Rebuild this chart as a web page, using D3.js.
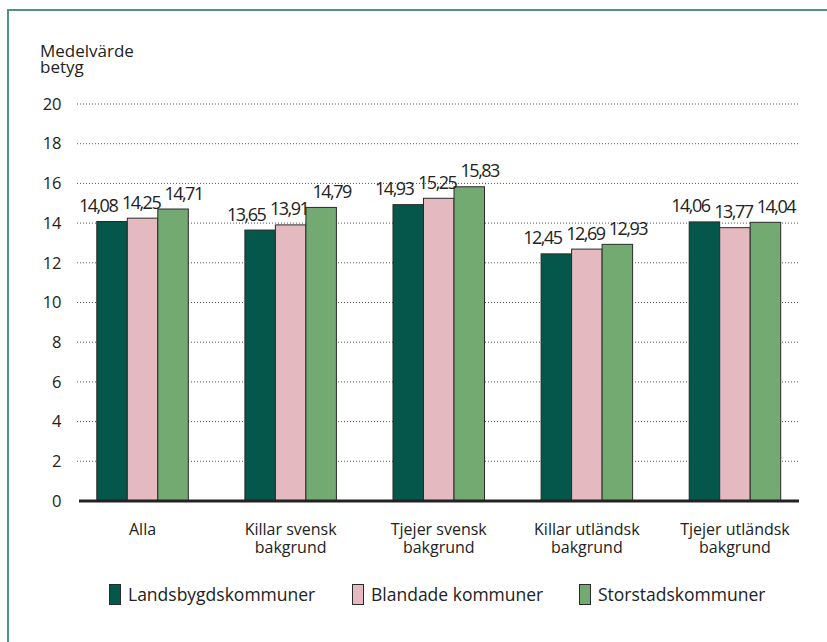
<!DOCTYPE html>
<html><head><meta charset="utf-8">
<script src="https://cdn.jsdelivr.net/npm/d3@7"></script>
<style>body{margin:0;background:#fff;} svg{display:block;font-family:"Open Sans",sans-serif;}</style>
</head><body>
<svg id="chart" width="827" height="642"></svg>
<script>
const categories = [["Alla"],["Killar svensk","bakgrund"],["Tjejer svensk","bakgrund"],["Killar utländsk","bakgrund"],["Tjejer utländsk","bakgrund"]];
const seriesNames = ["Landsbygdskommuner","Blandade kommuner","Storstadskommuner"];
const landsbygd = [14.08,13.65,14.93,12.45,14.06];
const blandade  = [14.25,13.91,15.25,12.69,13.77];
const storstad  = [14.71,14.79,15.83,12.93,14.04];
const yTicks = [0,2,4,6,8,10,12,14,16,18,20];
const colors = ["#04574a","#e4b9c0","#72aa72"];
const series = [landsbygd, blandade, storstad];

const svg = d3.select("#chart");
svg.append("rect").attr("x",8).attr("y",10).attr("width",900).attr("height",700)
  .attr("fill","none").attr("stroke","#4f9384").attr("stroke-width",2);

const y = d3.scaleLinear().domain([0,20]).range([501,104]);
const x0 = d3.scaleBand().domain(d3.range(categories.length)).range([68.5,809]).paddingInner(0.382).paddingOuter(0.191);
const x1 = d3.scaleBand().domain(d3.range(series.length)).range([0,x0.bandwidth()]);

// gridlines
const gridG = svg.append("g");
gridG.selectAll("line").data(yTicks.filter(t=>t>0)).join("line")
  .attr("x1",77).attr("x2",799).attr("y1",d=>y(d)).attr("y2",d=>y(d))
  .attr("stroke","#555").attr("stroke-width",1).attr("stroke-dasharray","1,2");

// y axis labels
const yAxis = d3.axisLeft(y).tickValues(yTicks).tickSize(0).tickPadding(0).tickFormat(d=>d);
const ya = svg.append("g").attr("transform","translate(61.5,0)").call(yAxis);
ya.select(".domain").remove();
ya.selectAll("text").attr("font-size","16.5px").attr("fill","#222").attr("font-family","'Open Sans',sans-serif");

// bars
const groups = svg.append("g").selectAll("g").data(categories.map((c,i)=>i)).join("g")
  .attr("transform",i=>`translate(${x0(i)},0)`);
groups.selectAll("rect").data(i=>series.map((s,k)=>({k,v:s[i]}))).join("rect")
  .attr("x",d=>x1(d.k)).attr("width",x1.bandwidth())
  .attr("y",d=>y(d.v)).attr("height",d=>y(0)-y(d.v))
  .attr("fill",d=>colors[d.k]).attr("stroke","#2a2a2a").attr("stroke-width",1);
const labelShift = [-14,-1.5,10.5];
groups.selectAll("text").data(i=>series.map((s,k)=>({k,v:s[i]}))).join("text")
  .attr("x",d=>x1(d.k)+x1.bandwidth()/2+labelShift[d.k]).attr("y",d=>y(d.v)-9.5)
  .attr("text-anchor","middle").attr("font-size","18px").attr("letter-spacing","-1.5px")
  .attr("fill","#222").text(d=>d3.format(".2f")(d.v).replace(".",","));

// baseline
svg.append("line").attr("x1",79).attr("x2",799).attr("y1",y(0)).attr("y2",y(0))
  .attr("stroke","#222").attr("stroke-width",3);

// x labels
const xl = svg.append("g").selectAll("text").data(categories).join("text")
  .attr("x",(d,i)=>x0(i)+x0.bandwidth()/2).attr("y",534.5)
  .attr("text-anchor","middle").attr("font-size","16px").attr("fill","#222");
xl.selectAll("tspan").data(d=>d).join("tspan")
  .attr("x",function(){return this.parentNode.getAttribute("x");})
  .attr("dy",(d,j)=>j===0?0:18).text(d=>d);

// y title
svg.append("text").attr("x",40).attr("y",57).attr("font-size","17px").attr("fill","#222").text("Medelvärde");
svg.append("text").attr("x",40).attr("y",73).attr("font-size","17px").attr("fill","#222").text("betyg");

// legend
const legX = [109,352,579];
const leg = svg.append("g").selectAll("g").data(seriesNames).join("g")
  .attr("transform",(d,i)=>`translate(${legX[i]},584)`);
leg.append("rect").attr("x",0.5).attr("y",0.5).attr("width",11).attr("height",20)
  .attr("fill",(d,i)=>colors[i]).attr("stroke","#2a2a2a").attr("stroke-width",1);
leg.append("text").attr("x",19).attr("y",16.5).attr("font-size","17.5px").attr("fill","#222").text(d=>d);
</script>
</body></html>
